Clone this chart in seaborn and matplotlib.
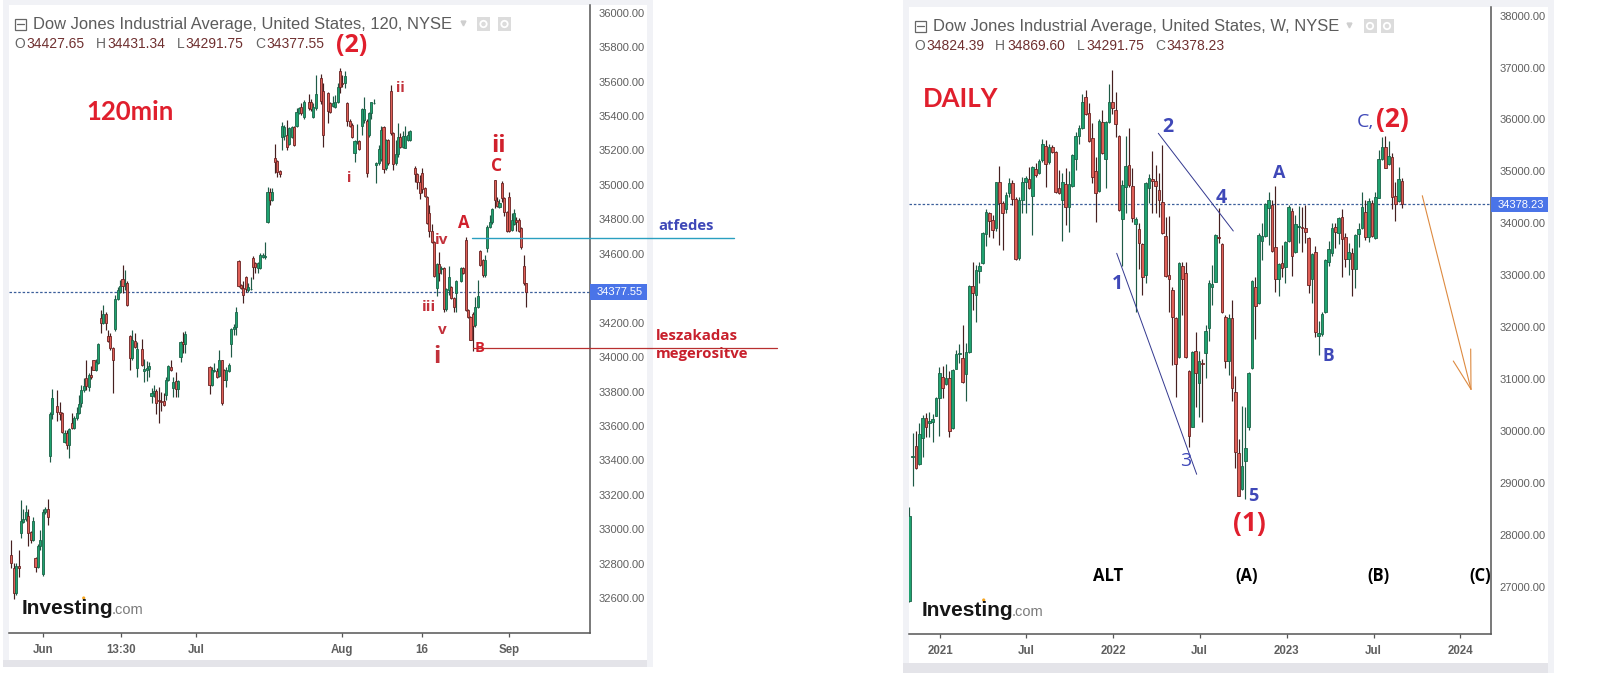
import numpy as np
import matplotlib
matplotlib.use("Agg")
import matplotlib.pyplot as plt
from matplotlib.patches import Rectangle, Circle
import seaborn as sns

W, H = 1612, 674

# ---- 120-minute panel: session slot and OHLC
left_slot = [0,1,2,3,4,5,6,7,8,9,10,11,12,13,14,15,16,17,19,20,21,22,23,24,25,26,27,28,29,30,31,32,33,34,35,36,37,38,39,40,41,42,43,44,45,46,47,48,49,50,51,52,
54,55,56,57,58,59,60,61,62,63,64,65,66,67,68,69,70,71,72,
82,83,84,85,86,87,88,89,90,91,92,93,94,95,96,97,98,99,100,101,102,103,104,105,106,107,108,109,110,111,112,113,114,115,116,117,118,119,120,121,
123,124,125,126,128,129,131,132,133,134,135,136,137,138,139,140,141,142,143,144,145,146,147,148,149,150,151,152,153,154,155,156,157,158,159,160,161,162,163,164,165,
167,168,169,170,171,172,173,174,175,176,177,178,179,180,181,182,183,184,186,187,188,189,190,191,192,193,194,195,196,197,198,199,200,201,202,203,204,205,206,207,208,209,210,211,212,213]
left_open = [32854,32773,32631,32788,32976,33044,33059,33080,32984,32941,32833,32782,32906,32738,33098,33121,33425,33667,33717,33683,33673,33508,33557,33487,33619,33590,33644,33677,33731,33808,33876,33828,33899,33981,33928,33967,34225,34200,34250,34124,34124,34050,34161,34335,34376,34451,34424,34428,34122,33992,34095,33934,
34045,33921,33925,33930,33776,33789,33805,33750,33745,33743,33779,33867,33944,33818,33861,33812,34002,34085,34076,
33944,33836,33921,33919,33890,33981,33925,33870,33921,34079,34161,34172,34558,34418,34399,34463,34389,34393,34577,34544,34515,34515,34583,34579,34786,34960,34912,35154,35139,35080,35280,35285,35289,35237,35276,35334,35342,35415,35454,35396,
35483,35483,35396,35444,35619,35545,35535,35473,35458,35454,35483,35661,35590,35590,35473,35373,35348,35183,35251,35255,35344,35377,35373,35290,35419,35473,35115,35125,35148,35334,35096,35260,35547,35299,35125,35179,35276,35222,35216,35260,35260,
35100,35063,35018,35071,34980,34931,34834,34732,34666,34399,34538,34510,34519,34279,34389,34409,34341,34370,34441,34515,34680,34273,34234,34253,34184,34292,34616,34563,34474,34631,34757,34786,35026,34906,34873,35013,34922,34844,34927,34738,34772,34796,34796,34747,34529,34427.65]
left_high = [32937,32802,32806,32879,33170,33117,33141,33121,32990,33073,32840,32915,32995,33121,33130,33175,33680,33812,33808,33737,33680,33576,33576,33590,33673,33660,33710,33779,33838,33876,33983,33905,33950,33985,33987,34080,34273,34302,34260,34157,34138,34060,34360,34409,34445,34533,34505,34440,34130,34157,34138,34089,
34105,33987,33980,33973,33818,33840,33815,33828,33800,33790,33886,33955,33983,33885,33915,33870,34095,34147,34151,
33950,33945,33965,33935,34041,33985,33930,33945,33965,34170,34195,34292,34565,34425,34440,34470,34430,34467,34585,34555,34550,34602,34605,34666,34989,34980,34980,35237,35146,35087,35367,35345,35377,35334,35340,35340,35448,35450,35473,35493,
35528,35500,35475,35636,35644,35593,35540,35480,35515,35522,35590,35677,35638,35661,35480,35380,35357,35260,35351,35262,35445,35508,35380,35425,35483,35497,35130,35231,35342,35340,35266,35266,35580,35308,35260,35357,35299,35310,35340,35310,35318,
35108,35070,35060,35096,34990,34937,34883,34770,34672,34545,34612,34530,34525,34400,34530,34415,34350,34450,34525,34525,34695,34280,34240,34260,34350,34447,34622,34570,34590,34767,34825,34865,35030,34930,34920,35020,34930,34850,34957,34835,34858,34812,34805,34758,34593,34431.34]
left_low = [32773,32598,32618,32724,32951,33034,33050,32902,32922,32935,32753,32775,32879,32730,33090,33028,33392,33640,33630,33634,33560,33499,33466,33412,33585,33585,33635,33670,33708,33800,33808,33805,33875,33925,33922,33960,34141,34192,34157,34090,34041,33793,34153,34330,34370,34374,34389,34296,33925,33985,34055,33886,
33948,33857,33863,33886,33731,33770,33669,33619,33690,33715,33750,33860,33920,33766,33766,33770,33973,34021,34021,
33785,33830,33915,33880,33885,33721,33865,33828,33915,34002,34128,34128,34405,34393,34316,34380,34380,34388,34453,34486,34490,34510,34575,34572,34780,34883,34905,35067,35047,35044,35202,35260,35202,35231,35270,35226,35335,35410,35406,35380,
35435,35430,35386,35435,35470,35222,35357,35420,35450,35444,35475,35531,35566,35560,35342,35335,35270,35135,35235,35200,35290,35357,35044,35280,35380,35470,35013,35115,35140,35067,35088,35115,35290,35086,35115,35164,35215,35215,35212,35255,35255,
35018,34976,34916,34951,34930,34770,34699,34660,34466,34354,34440,34485,34260,34270,34360,34335,34263,34263,34435,34480,34265,34225,34098,34037,34175,34285,34528,34466,34466,34612,34750,34775,34864,34870,34865,34902,34819,34725,34725,34730,34765,34735,34725,34630,34420,34291.75]
left_close = [32806,32631,32788,32778,33048,33063,33098,32980,32937,33048,32782,32906,32937,33098,33121,33069,33667,33760,33683,33667,33566,33557,33487,33580,33590,33644,33673,33727,33808,33834,33832,33899,33882,33928,33973,34076,34200,34250,34200,34095,34050,33983,34335,34389,34414,34412,34432,34302,33992,34099,34060,34045,
33954,33930,33934,33950,33789,33803,33731,33743,33737,33723,33867,33948,33928,33853,33814,33863,34085,34076,34132,
33836,33928,33928,33886,33981,33731,33870,33925,33957,34161,34172,34263,34412,34399,34360,34393,34405,34397,34525,34521,34544,34591,34593,34587,34960,34912,34960,35135,35077,35061,35342,35335,35222,35328,35334,35231,35421,35444,35415,35483,
35444,35440,35454,35526,35489,35290,35429,35425,35477,35483,35566,35566,35583,35632,35373,35342,35280,35255,35255,35206,35439,35439,35071,35419,35479,35477,35125,35208,35319,35090,35260,35125,35299,35121,35179,35276,35222,35284,35284,35290,35311,
35063,35015,34951,34974,34937,34780,34732,34670,34472,34538,34490,34520,34279,34393,34467,34341,34292,34441,34515,34486,34273,34230,34102,34180,34292,34354,34534,34474,34563,34757,34786,34858,34912,34877,34896,34926,34844,34732,34732,34796,34834,34786,34732,34641,34428,34377.55]
left_yticks = list(range(32600, 36001, 200))
left_tick_slots = [13.2, 45.5, 76.4, 136.8, 169.9, 205.9]
left_tick_labels = ["Jun", "13:30", "Jul", "Aug", "16", "Sep"]
left_break_level = 34690
left_confirm_level = 34051

# ---- Weekly panel: OHLC per week
right_open = [26714,29490,29712,29359,29872,30258,30148,30180,30296,30643,31034,30899,31015,30065,31201,31490,31400,31092,31529,32800,32620,33089,33230,33788,34193,34065,33917,34796,34386,34270,34591,34771,34469,33326,34450,34790,34848,34533,35047,34976,35220,35496,35175,35477,35380,34674,34450,34758,34321,34726,
35233,35682,35830,36427,36132,35637,35015,34629,35958,35233,35958,36331,36177,35682,34077,34694,35124,34719,33981,33885,33596,33012,34674,34848,34815,34642,34418,33756,33000,32716,32171,31419,33179,33037,31163,30084,31548,30919,31304,31497,31978,32768,32877,33731,33596,32203,31355,32171,30745,29571,
28877,29429,30084,31208,32768,32472,33666,33756,34289,34347,33538,32935,33230,33166,33666,34244,33455,33920,33925,33904,33711,32922,33442,31837,31869,32299,33262,33435,33936,33808,34129,33731,33307,33423,33114,33788,33917,34212,33744,34386,33711,34494,35233,35464,35137,35271,34533,34430,34824.39]
right_high = [28530,29956,30001,30161,30300,30341,30355,30322,30662,31227,31253,31291,31163,31190,31561,31676,32042,31702,32810,33262,33198,33262,33840,34270,34220,34161,34800,35105,34420,34610,34867,34830,34500,34500,34899,34918,35092,35111,35156,35233,35618,35605,35530,35510,35400,35028,34977,35060,35000,35340,
35766,35894,36491,36568,36312,35926,35284,36000,36183,35980,36684,36954,36523,35700,34830,35682,35830,35060,34120,34000,33620,34790,34950,35394,35124,34963,35509,34129,34140,32768,32200,33250,33262,33249,31180,31540,31901,31548,31381,32050,32910,33198,33800,34289,33620,32230,32248,32524,31060,29847,
30482,30456,31130,32910,32973,33821,34000,34390,34604,34450,34719,33230,33583,33650,34350,34289,34161,34334,34320,34353,33740,33430,33570,32120,32300,33320,33666,34000,34000,34130,34270,33808,33615,33519,33790,34000,34610,34450,34480,34450,34610,35413,35669,35683,35586,35349,34803,35079,34869.60]
right_low = [26700,28948,29270,29340,29506,29892,29892,29795,30280,29904,30643,30880,29892,30040,31190,31304,30930,30585,31500,32331,32106,32845,33210,33564,33744,33711,33850,33583,33487,34193,34514,34353,33290,33300,34193,34193,34660,33769,34900,34950,35190,34707,35150,35350,34590,34570,33660,33968,33840,34700,
35028,35528,35810,36080,35570,34771,34032,34610,35340,34687,35940,36110,35657,34240,33179,34193,34700,34032,32299,33114,32620,32845,34386,34193,34206,34129,33800,32970,32299,31272,30662,31400,32235,31400,29699,30070,30469,30277,30180,31015,31740,32427,32860,33615,32280,31220,31079,30578,29294,28740,
28860,28691,30020,31190,31766,32450,33294,33740,33583,33450,32684,32607,32973,32845,33640,32986,33430,33615,33455,33615,32652,32460,31818,31464,31837,32280,33180,33371,33519,33600,32973,33166,33005,32607,32748,33551,33890,33680,33647,33730,33690,34480,35210,35060,35120,34270,34052,34410,34291.75]
right_close = [28351,29520,29282,29936,30245,30071,30200,30225,30630,31111,30835,31015,30007,31176,31484,31509,30951,31516,32793,32652,33102,33179,33808,34219,34052,33872,34796,34386,34206,34540,34784,34469,33307,34450,34790,34880,34687,35079,34931,35207,35522,35137,35477,35368,34610,34590,34803,34321,34752,35316,
35682,35830,36331,36100,35586,34899,34591,35978,35361,35958,36344,36228,35913,34257,34739,35105,34739,34097,34084,33628,32960,34771,34867,34822,34726,34450,33821,32992,32922,32203,31285,33230,32922,31419,29911,31522,31111,31355,31290,31927,32858,32832,33776,33715,32299,31349,32171,30835,29603,28755,
29327,29667,31111,32890,32415,33769,33756,34373,34443,33474,32935,33211,33146,33634,34308,33378,33981,33940,33905,33840,32819,33403,31914,31882,32254,33294,33500,33904,33827,34109,33699,33307,33442,33114,33769,33891,34308,33731,34430,33756,34514,35233,35464,35072,35297,34514,34366,34848,34378.23]
right_yticks = list(range(27000, 38001, 1000))
right_tick_weeks = [9.3, 35.2, 61.3, 87.2, 113.4, 139.5, 165.5]
right_tick_labels = ["2021", "Jul", "2022", "Jul", "2023", "Jul", "2024"]

sns.set_theme(style="white")
plt.rcParams["font.family"] = ["Liberation Sans", "DejaVu Sans"]

GREEN, GREEN_E = "#1fa270", "#1a6347"
RED, RED_E = "#de5f57", "#6a2222"
WICK_G, WICK_R = "#1f5a46", "#452020"
AXC, TXT, MAROON = "#555555", "#5f5f5f", "#6f3030"
ALERT, BLUE = "#e01f2d", "#3f48b8"


def box(x0, y0, x1, y1):
    return [x0 / W, 1 - y1 / H, (x1 - x0) / W, (y1 - y0) / H]


fig = plt.figure(figsize=(W / 100, H / 100), dpi=100, facecolor="white")

# chrome behind the charts
bg = fig.add_axes([0, 0, 1, 1], zorder=0)
bg.set_xlim(0, W); bg.set_ylim(H, 0); bg.axis("off")
for x0, y0, x1, y1, col in [
    (3, 0, 653, 667, "#f1f2f6"), (9, 5, 647, 660, "white"), (3, 660, 647, 667, "#e4e4e9"),
    (903, 0, 1554, 673, "#f1f2f6"), (909, 7, 1548, 663, "white"), (903, 663, 1548, 673, "#e4e4e9"),
]:
    bg.add_patch(Rectangle((x0, y0), x1 - x0, y1 - y0, fc=col, ec="none"))


def candles(ax, x, o, h, l, c, width):
    x, o, h, l, c = map(np.asarray, (x, o, h, l, c))
    up = c >= o
    ax.vlines(x, l, h, colors=np.where(up, WICK_G, WICK_R), lw=0.85, zorder=2)
    ax.bar(x, np.abs(c - o), bottom=np.minimum(o, c), width=width,
           color=np.where(up, GREEN, RED), edgecolor=np.where(up, GREEN_E, RED_E),
           linewidth=0.6, zorder=3)


def dress(ax, xlim, ylim, yticks, xticks, xlabels):
    ax.set_xlim(*xlim); ax.set_ylim(*ylim)
    ax.patch.set_alpha(0)
    ax.yaxis.tick_right()
    ax.set_yticks(yticks, [f"{v:.2f}" for v in yticks])
    ax.set_xticks(xticks, xlabels)
    ax.set_xlabel(""); ax.set_ylabel("")
    ax.tick_params(axis="y", length=3.5, width=0.9, color=AXC, pad=3, labelsize=8, labelcolor=TXT, right=True)
    ax.tick_params(axis="x", length=3, width=0.9, color=AXC, pad=5, labelsize=8.3, labelcolor=TXT, bottom=True)
    for lab in ax.get_xticklabels():
        lab.set_fontweight("bold")
    sns.despine(ax=ax, left=True, top=True, right=False, bottom=False)
    for s in ("right", "bottom"):
        ax.spines[s].set_color(AXC); ax.spines[s].set_linewidth(1.1)


# left panel
axL = fig.add_axes(box(9, 4.7, 590, 632.7), zorder=2)
candles(axL, left_slot, left_open, left_high, left_low, left_close, 0.86)
axL.axhline(left_close[-1], color="#3b5f9a", lw=0.9, ls=(0, (2, 1.5)), zorder=1)
sns.lineplot(x=[190.6, 298.9], y=[left_break_level] * 2, ax=axL, color="#2a9fc0", lw=1.0,
             estimator=None, sort=False, legend=False, clip_on=False, zorder=5)
sns.lineplot(x=[191, 317], y=[left_confirm_level] * 2, ax=axL, color="#b83030", lw=0.9,
             estimator=None, sort=False, legend=False, clip_on=False, zorder=5)
dress(axL, (-0.97, 239.45), (32400, 36046), left_yticks, left_tick_slots, left_tick_labels)

# right panel
axR = fig.add_axes(box(909, 6.7, 1490.7, 634), zorder=2)
weeks = np.arange(len(right_open))
candles(axR, weeks, right_open, right_high, right_low, right_close, 0.8)
axR.axhline(right_close[-1], color="#3b5f9a", lw=0.9, ls=(0, (2, 1.5)), zorder=1)
dress(axR, (-0.1, 174.7), (26087, 38173), right_yticks, right_tick_weeks, right_tick_labels)

# drawings and texts on top, in figure pixels
ov = fig.add_axes([0, 0, 1, 1], zorder=5)
ov.set_xlim(0, W); ov.set_ylim(H, 0); ov.axis("off")

for (xa, ya), (xb, yb), col, lw in [
    ((1116.7, 253.3), (1196.7, 474.3), "#33388f", 0.7),
    ((1158.3, 133.3), (1233.3, 231), "#33388f", 0.7),
    ((1422.3, 195.7), (1471, 389.3), "#dd8a40", 0.8),
    ((1453.3, 361), (1471, 389.3), "#dd8a40", 0.8),
    ((1470.7, 349), (1471, 389.3), "#dd8a40", 0.8),
]:
    ov.plot([xa, xb], [ya, yb], color=col, lw=lw, solid_capstyle="round")


def T(x, y, s, color=ALERT, size=10, weight="bold", ha="center", family=None):
    ov.text(x, y, s, color=color, fontsize=size, fontweight=weight, ha=ha, va="center",
            family=family or ["Open Sans", "DejaVu Sans"])


# price tags
for x0, y0, y1, s in [(590, 284, 300, "34377.55"), (1491, 197.3, 211.7, "34378.23")]:
    ov.add_patch(Rectangle((x0, y0), 57, y1 - y0, fc="#4a74e8", ec="none"))
    T(x0 + 6.5, (y0 + y1) / 2, s, color="white", size=8, weight="normal", ha="left", family=["Liberation Sans"])

# headers
LS = ["Liberation Sans"]
for x, y, sq, title, tx, icons, parts in [
    (14.5, 24, (14.5, 18.5), "Dow Jones Industrial Average, United States, 120, NYSE", 33.3, (477, 498),
     [(14, "O", 0), (26.7, "34427.65", 1), (95.7, "H", 0), (107, "34431.34", 1), (176.7, "L", 0), (185.7, "34291.75", 1), (255, "C", 0), (266.7, "34377.55", 1)]),
    (914.5, 26, (914.5, 20.5), "Dow Jones Industrial Average, United States, W, NYSE", 933.3, (1363.5, 1380.5),
     [(914, "O", 0), (926.7, "34824.39", 1), (995.3, "H", 0), (1007.7, "34869.60", 1), (1076.7, "L", 0), (1086, "34291.75", 1), (1155, "C", 0), (1166.7, "34378.23", 1)]),
]:
    ov.add_patch(Rectangle(sq, 11.5, 11.5, fc="none", ec="#666666", lw=0.9))
    ov.plot([sq[0] + 2.5, sq[0] + 9], [sq[1] + 5.7] * 2, color="#666666", lw=0.9)
    T(tx, y, title, color="#5c5c5c", size=11.9, weight="normal", ha="left", family=LS)
    ov.plot([icons[0] - 14.5], [y - 1], marker="v", ms=3.5, color="#cfcfcf")
    for ix in icons:
        ov.add_patch(Rectangle((ix, y - 7), 13, 14, fc="#dcdcdc", ec="none"))
        ov.add_patch(Circle((ix + 6.5, y), 3.2, fc="none", ec="white", lw=1.3))
    for px, s, val in parts:
        T(px, y + 20.5, s, color=MAROON if val else "#666666", size=10, weight="normal", ha="left", family=LS)

# wave labels, left
T(130.5, 111.5, "120min", size=18.5, family=["Lato", "DejaVu Sans"])
T(352, 45, "(2)", size=18)
T(400, 87.7, "ii", color="#c2303a", size=10.5)
T(349, 178, "i", color="#c2303a", size=10.5)
T(498.7, 145.5, "ii", color="#d0202c", size=17)
T(496.7, 166, "C", color="#d0202c", size=12.5)
T(463.3, 223.3, "A", color="#d0202c", size=12)
T(442, 240, "iv", color="#c2303a", size=11)
T(429, 307.3, "iii", color="#c2303a", size=11)
T(442, 330, "v", color="#c2303a", size=11)
T(436.7, 357.3, "i", color="#c2303a", size=17)
T(479.3, 348.3, "B", color="#d0202c", size=10.5)
T(658, 226, "atfedes", color=BLUE, size=10.7, ha="left")
T(656, 336, "leszakadas", color="#c8202c", size=10.8, ha="left")
T(656, 354, "megerositve", color="#c8202c", size=10.8, ha="left")

# wave labels, right
T(923.3, 99.3, "DAILY", size=18.5, ha="left", family=["Lato", "DejaVu Sans"])
T(1117.3, 284, "1", color=BLUE, size=14)
T(1168.3, 127.3, "2", color=BLUE, size=14)
T(1185.7, 461, "3", color=BLUE, size=14, weight="normal")
T(1220.7, 198.3, "4", color=BLUE, size=14)
T(1279.3, 173.3, "A", color=BLUE, size=13)
T(1365.7, 122, "C,", color=BLUE, size=14, weight="normal")
T(1392.3, 120, "(2)", size=19)
T(1253.3, 495.7, "5", color=BLUE, size=13)
T(1249, 523, "(1)", size=19)
T(1328.3, 356, "B", color=BLUE, size=12.5)
T(1108.3, 575.7, "ALT", color="black", size=12)
T(1246.7, 576.5, "(A)", color="black", size=12)
T(1378.3, 576.5, "(B)", color="black", size=12)
T(1480, 576.5, "(C)", color="black", size=12)

# logos
for x0, y0 in [(21.7, 608), (921.7, 610)]:
    T(x0, y0, "Investing", color="#161616", size=15, ha="left", family=["Liberation Sans"])
    T(x0 + 90, y0 + 1.5, ".com", color="#7a7a7a", size=10.5, weight="normal", ha="left", family=["Liberation Sans"])
    ov.add_patch(Circle((x0 + 62, y0 - 10), 1.6, fc="#f5a623", ec="none"))

fig.savefig("out.png", dpi=100)
